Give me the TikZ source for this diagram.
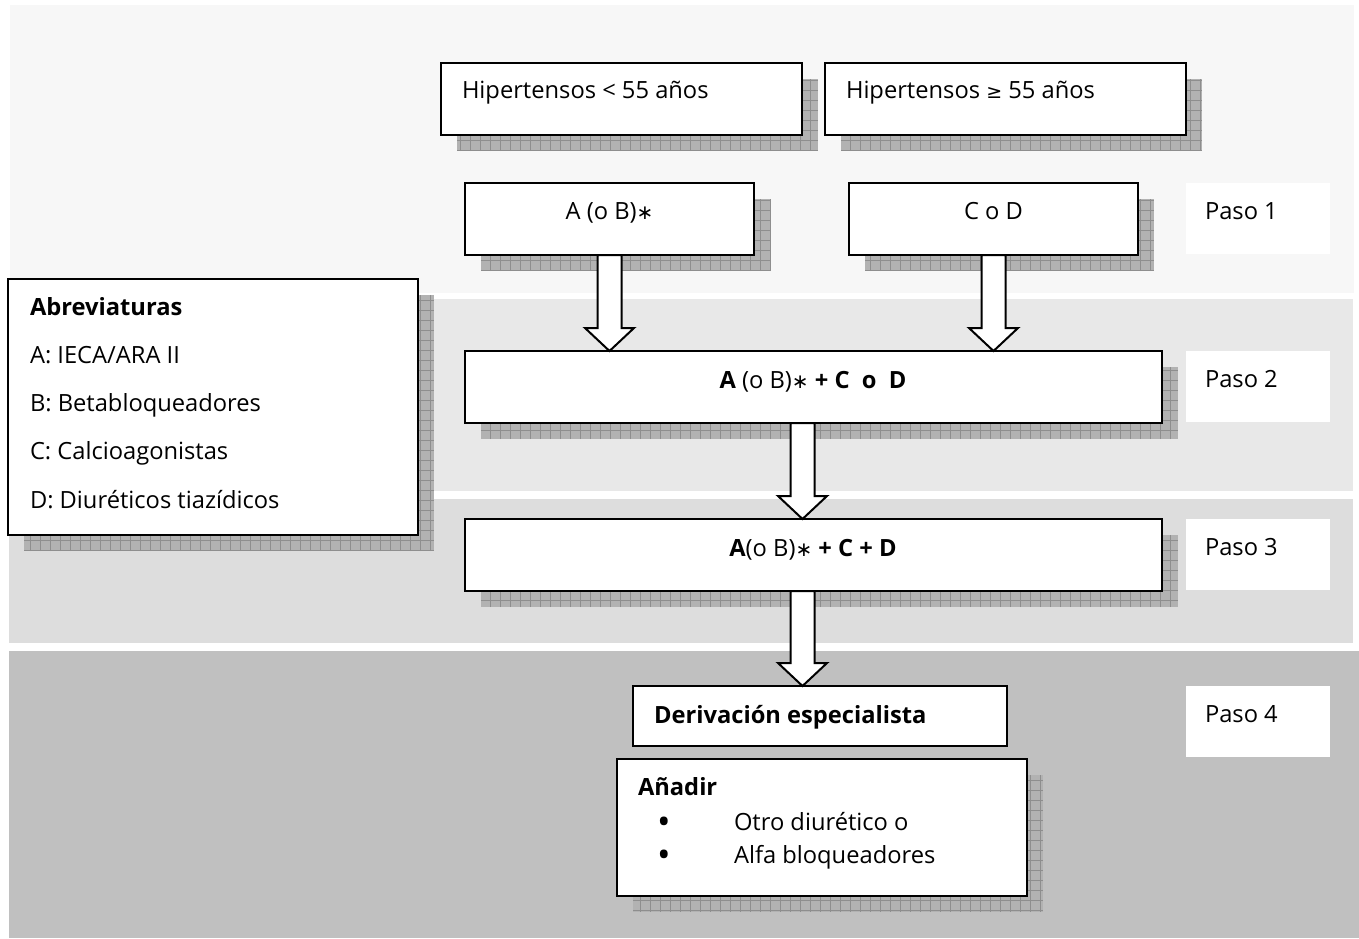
\documentclass[tikz,border=0pt]{standalone}
\usepackage{fontspec}
\setmainfont{Open Sans}
\newfontfamily\symfont{DejaVu Sans}
\usetikzlibrary{calc}
\pgfdeclarelayer{bands}
\pgfdeclarelayer{shadows}
\pgfsetlayers{bands,shadows,main}
\definecolor{bandA}{HTML}{F7F7F7}
\definecolor{bandB}{HTML}{E8E8E8}
\definecolor{bandC}{HTML}{DDDDDD}
\definecolor{bandD}{HTML}{C0C0C0}
\definecolor{shfillc}{HTML}{B2B2B2}
\definecolor{shgridc}{HTML}{8E8E8E}
\newcommand\astr{{\symfont\fontsize{20}{20}\selectfont ∗}}
\tikzset{
  box/.style={draw=black, line width=2.3pt, fill=white, inner sep=0pt, outer sep=0pt, anchor=north west},
  pasobox/.style={fill=white, inner sep=0pt, outer sep=0pt, anchor=north west, minimum width=144pt, minimum height=71pt},
  shfill/.style={fill=shfillc},
  shgrid/.style={draw=shgridc, line width=0.6pt},
  barrow/.style={draw=black, fill=white, line width=2pt, line join=miter},
  txt/.style={inner sep=0pt, outer sep=0pt, font=\fontsize{23.7}{28}\selectfont},
}
\newcommand\shbox[1]{%
  \begin{pgfonlayer}{shadows}
    \fill[shfill] ($(#1.south west)+(16,16)$) rectangle ($(#1.north east)+(16,16)$);
    \draw[shgrid, step=10pt] ($(#1.south west)+(16,16)$) grid ($(#1.north east)+(16,16)$);
  \end{pgfonlayer}}
\newcommand\blockarr[2]{% #1 from point, #2 to point
  \draw[barrow] let \p1=#1, \p2=#2 in
    (\x1-12pt,\y1) -- (\x1+12pt,\y1) -- (\x1+12pt,\y2+23pt) -- (\x1+24.5pt,\y2+23pt)
    -- (\x1,\y2) -- (\x1-24.5pt,\y2+23pt) -- (\x1-12pt,\y2+23pt) -- cycle;}
\begin{document}
\begin{tikzpicture}[x=1pt,y=-1pt]
\useasboundingbox (0,0) rectangle (1359,938);
\begin{pgfonlayer}{bands}
  \fill[white] (0,0) rectangle (1359,938);
  \fill[bandA] (10,5) rectangle (1354,293);
  \fill[bandB] (10,299) rectangle (1353,491);
  \fill[bandC] (9,499) rectangle (1353,643);
  \fill[bandD] (9,651) rectangle (1359,938);
\end{pgfonlayer}

% boxes
\node[box, minimum width=361pt, minimum height=72pt] (h1) at (441,63) {};
\node[box, minimum width=361pt, minimum height=72pt] (h2) at (825,63) {};
\node[box, minimum width=289pt, minimum height=72pt] (a1) at (465,183) {};
\node[box, minimum width=289pt, minimum height=72pt] (c1) at (849,183) {};
\node[box, minimum width=697pt, minimum height=72pt] (s2) at (465,351) {};
\node[box, minimum width=697pt, minimum height=72pt] (s3) at (465,519) {};
\node[box, minimum width=374pt, minimum height=60pt] (der) at (633,686) {};
\node[box, minimum width=410pt, minimum height=137pt] (add) at (617,759) {};
\node[box, minimum width=410pt, minimum height=256pt] (abr) at (8,279) {};
\node[pasobox] (p1) at (1186,183) {};
\node[pasobox] (p2) at (1186,351) {};
\node[pasobox] (p3) at (1186,519) {};
\node[pasobox] (p4) at (1186,686) {};

\shbox{h1}\shbox{h2}\shbox{a1}\shbox{c1}\shbox{s2}\shbox{s3}\shbox{add}\shbox{abr}

% arrows
\blockarr{(a1.south)}{(a1.south |- s2.north)}
\blockarr{(c1.south)}{(c1.south |- s2.north)}
\coordinate (m2) at ($(s2.south)+(-11,0)$);
\coordinate (m3) at ($(s3.south)+(-11,0)$);
\blockarr{(m2)}{(m2 |- s3.north)}
\blockarr{(m3)}{(m3 |- der.north)}

% texts
\node[txt, anchor=base west] (th1) at (462,98) {Hipertensos < 55 años};
\node[txt, anchor=base west] (th2) at (846,98) {Hipertensos {\symfont\fontsize{19}{20}\selectfont ≥} 55 años};
\node[txt, anchor=base] (ta1) at (609.5,219) {A (o B)\astr};
\node[txt, anchor=base] (tc1) at (993.5,219) {C o D};
\node[txt, anchor=base] (ts2) at (813,388) {\textbf{A} (o B)\astr\ \textbf{+ C\ \ o\ \ D}};
\node[txt, anchor=base] (ts3) at (813,556) {\textbf{A}(o B)\astr\ \textbf{+ C + D}};
\node[txt, anchor=base west] (tder) at (654,723) {\textbf{Derivación especialista}};
\node[txt, anchor=base west] (tp1) at (1205,219) {Paso 1};
\node[txt, anchor=base west] (tp2) at (1205,387) {Paso 2};
\node[txt, anchor=base west] (tp3) at (1205,555) {Paso 3};
\node[txt, anchor=base west] (tp4) at (1205,722) {Paso 4};
\node[txt, anchor=base west] (tab0) at (30,315) {\textbf{Abreviaturas}};
\node[txt, anchor=base west] (tab1) at (30,363) {A: IECA/ARA II};
\node[txt, anchor=base west] (tab2) at (30,411) {B: Betabloqueadores};
\node[txt, anchor=base west] (tab3) at (30,459) {C: Calcioagonistas};
\node[txt, anchor=base west] (tab4) at (30,508) {D: Diuréticos tiazídicos};
\node[txt, anchor=base west] (tadd) at (638,795) {\textbf{Añadir}};
\node[txt, anchor=base, font=\fontsize{36}{36}\selectfont] (b1) at (664,834) {\textbullet};
\node[txt, anchor=base, font=\fontsize{36}{36}\selectfont] (b2) at (664,867) {\textbullet};
\node[txt, anchor=base west] (tadd1) at (734,830) {Otro diurético o};
\node[txt, anchor=base west] (tadd2) at (734,863) {Alfa bloqueadores};
\end{tikzpicture}
\end{document}
